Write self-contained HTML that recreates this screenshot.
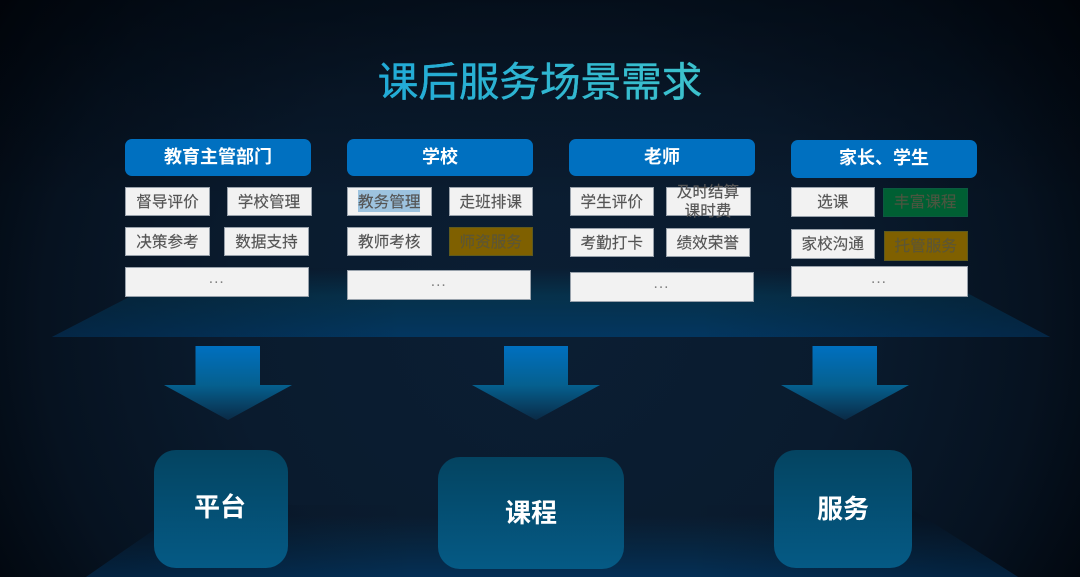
<!DOCTYPE html>
<html lang="zh">
<head>
<meta charset="utf-8">
<style>
html,body{margin:0;padding:0;width:1080px;height:577px;overflow:hidden;background:#000}
#s{position:relative;width:1080px;height:577px;overflow:hidden;font-family:"Liberation Sans","Noto Sans CJK SC",sans-serif;
background:linear-gradient(rgba(0,4,10,.5) 0,rgba(0,4,10,.25) 90px,rgba(0,4,10,0) 200px),radial-gradient(ellipse 690px 640px at 540px 320px,#0b1e33 0%,#0a1b2e 45%,#061220 72%,#020810 88%,#000 100%)}
svg.bg{position:absolute;left:0;top:0}
.t{position:absolute;left:377px;top:53px;width:326px;text-align:center;white-space:nowrap;font-size:40.6px;line-height:58px;color:transparent;-webkit-text-stroke:.3px #2fb4cc;background:linear-gradient(100deg,#1fa9d9,#3fc3cb);-webkit-background-clip:text;background-clip:text}
.h,.c,.b{position:absolute;display:flex;align-items:center;justify-content:center;box-sizing:border-box;white-space:nowrap}
.h{background:#0070c0;color:#fff;font-weight:bold;font-size:18px;border-radius:7px;padding-bottom:4px;filter:blur(.2px)}
.c{background:#f2f2f2;color:#555;font-size:15.6px;border:1px solid #98a1ab;filter:blur(.3px);padding-bottom:2px;-webkit-text-stroke:.15px #555}
.d{color:#808080;letter-spacing:1px;padding-bottom:6px;-webkit-text-stroke:0}
.g{background:#7f6000;border-color:#5f5a1c;color:#5c5636;-webkit-text-stroke:.15px #5c5636}
.e{background:#005f33;border-color:#0a5a40;color:#4a5640;-webkit-text-stroke:.15px #4a5640}
.b{color:#fff;font-weight:bold;font-size:26px;border-radius:22px;background:linear-gradient(#044461,#055a85);filter:blur(.15px)}
mark{background:#9dc3df;color:#555}
</style>
</head>
<body>
<div id="s">
<svg class="bg" width="1080" height="577" viewBox="0 0 1080 577">
<defs>
<linearGradient id="p" x1="0" y1="0" x2="0" y2="1"><stop offset="0" stop-color="#05344f" stop-opacity="0"/><stop offset=".4" stop-color="#05344f" stop-opacity=".85"/><stop offset="1" stop-color="#033660"/></linearGradient>
<linearGradient id="q" x1="0" y1="0" x2="0" y2="1"><stop offset=".15" stop-color="#04304f" stop-opacity="0"/><stop offset="1" stop-color="#042f55"/></linearGradient>
<linearGradient id="o" x1="0" y1="0" x2="1" y2="0"><stop offset="0" stop-color="#050f1e" stop-opacity=".4"/><stop offset=".35" stop-color="#050f1e" stop-opacity="0"/><stop offset=".65" stop-color="#050f1e" stop-opacity="0"/><stop offset="1" stop-color="#050f1e" stop-opacity=".4"/></linearGradient>
<linearGradient id="a" x1="0" y1="0" x2="0" y2="1"><stop offset="0" stop-color="#0070c0"/><stop offset=".53" stop-color="#05608f"/><stop offset="1" stop-color="#0a2a45"/></linearGradient>
</defs>
<polygon points="52,337 185,268 920,268 1050,337" fill="url(#p)"/>
<polygon points="52,337 185,268 920,268 1050,337" fill="url(#o)"/>
<polygon points="86,577 190,505 905,505 1018,577" fill="url(#q)"/>
<polygon points="86,577 190,505 905,505 1018,577" fill="url(#o)"/>
<polygon points="195.500,346 260,346 260,385 292,385 228,420 164,385 195.500,385" fill="url(#a)"/>
<polygon points="504,346 568,346 568,385 600,385 536,420 472,385 504,385" fill="url(#a)"/>
<polygon points="812.500,346 877,346 877,385 909,385 845,420 781,385 812.500,385" fill="url(#a)"/>
</svg>

<div class="t">课后服务场景需求</div>

<div class="h" style="left:125px;top:139px;width:186px;height:37px">教育主管部门</div>
<div class="h" style="left:347px;top:139px;width:186px;height:37px">学校</div>
<div class="h" style="left:569px;top:139px;width:186px;height:37px">老师</div>
<div class="h" style="left:791px;top:140px;width:186px;height:38px">家长、学生</div>

<div class="c" style="left:125px;top:187px;width:85px;height:29px">督导评价</div>
<div class="c" style="left:226.500px;top:187px;width:85px;height:29px">学校管理</div>
<div class="c" style="left:125px;top:227px;width:85px;height:29px">决策参考</div>
<div class="c" style="left:224px;top:227px;width:85px;height:29px">数据支持</div>
<div class="c d" style="left:125px;top:267px;width:183.500px;height:30px">...</div>

<div class="c" style="left:347px;top:187px;width:84.500px;height:29px"><mark>教务管理</mark></div>
<div class="c" style="left:448.500px;top:187px;width:84.500px;height:29px">走班排课</div>
<div class="c" style="left:347px;top:227px;width:84.500px;height:29px">教师考核</div>
<div class="c g" style="left:448.500px;top:227px;width:84.500px;height:29px">师资服务</div>
<div class="c d" style="left:347px;top:270px;width:183.500px;height:30px">...</div>

<div class="c" style="left:569.500px;top:187px;width:84.500px;height:29px">学生评价</div>
<div class="c" style="left:665.500px;top:187px;width:85px;height:29px"></div>
<div class="c" style="left:665.500px;top:187px;width:85px;height:29px;overflow:visible;white-space:normal;text-align:center;line-height:19px;background:none;border:0;padding:0;z-index:2">及时结算<br>课时费</div>
<div class="c" style="left:569.500px;top:228px;width:84.500px;height:29px">考勤打卡</div>
<div class="c" style="left:665.500px;top:228px;width:84.500px;height:29px">绩效荣誉</div>
<div class="c d" style="left:569.500px;top:272px;width:184px;height:30px">...</div>

<div class="c" style="left:790.500px;top:187px;width:84.500px;height:29.500px">选课</div>
<div class="c e" style="left:883px;top:187.500px;width:84.500px;height:29.500px">丰富课程</div>
<div class="c" style="left:790.500px;top:229px;width:84.500px;height:30px">家校沟通</div>
<div class="c g" style="left:883.500px;top:230.500px;width:84.500px;height:30px">托管服务</div>
<div class="c d" style="left:790.500px;top:266px;width:177px;height:31px">...</div>

<div class="b" style="left:154px;top:450px;width:134px;height:118px;padding-bottom:8px;padding-right:2px">平台</div>
<div class="b" style="left:438px;top:457px;width:186px;height:112px;padding-bottom:4px">课程</div>
<div class="b" style="left:774px;top:450px;width:138px;height:118px;padding-bottom:4px">服务</div>
</div>
</body>
</html>
